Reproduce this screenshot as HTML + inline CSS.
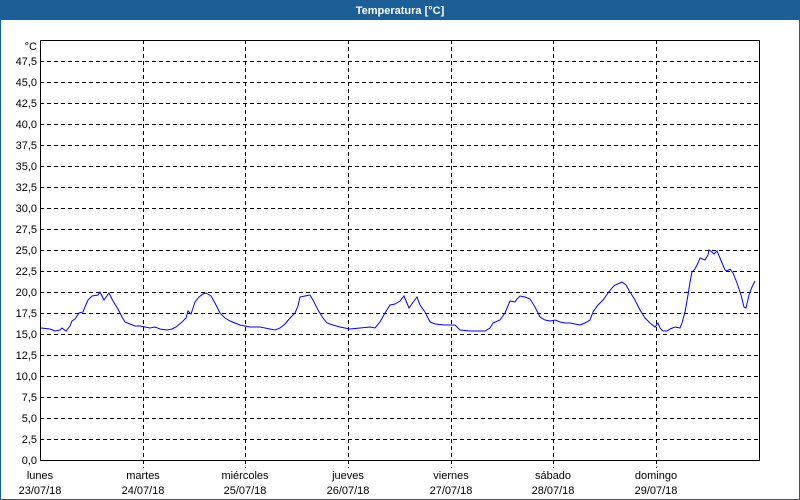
<!DOCTYPE html>
<html><head><meta charset="utf-8"><style>
html,body{margin:0;padding:0;background:#fff}
svg{display:block}
text{font-family:"Liberation Sans","DejaVu Sans",sans-serif;font-size:11px;fill:#000}
</style></head><body>
<svg width="800" height="500" viewBox="0 0 800 500" xmlns="http://www.w3.org/2000/svg">
<rect x="0" y="0" width="800" height="500" fill="#fff"/>
<rect x="0.5" y="0.5" width="799" height="499" fill="none" stroke="#1c5f96" stroke-width="1"/>
<rect x="0" y="0" width="800" height="20" fill="#1c5f96"/>
<text x="400" y="14" text-anchor="middle" style="fill:#fff;font-weight:bold">Temperatura [°C]</text>
<g stroke="#000" stroke-width="1" stroke-dasharray="4,3" fill="none">
<path d="M40 439.5H760M40 418.5H760M40 397.5H760M40 376.5H760M40 355.5H760M40 334.5H760M40 313.5H760M40 292.5H760M40 271.5H760M40 250.5H760M40 229.5H760M40 208.5H760M40 187.5H760M40 166.5H760M40 145.5H760M40 124.5H760M40 103.5H760M40 82.5H760M40 61.5H760"/>
<path d="M143.5 40V468M245.5 40V468M348.5 40V468M451.5 40V468M553.5 40V468M656.5 40V468"/>
</g>
<rect x="40.5" y="40.5" width="719" height="420" fill="none" stroke="#000" stroke-width="1"/>
<g text-anchor="end">
<text x="37" y="50">°C</text>
<text x="37" y="65">47,5</text><text x="37" y="86">45,0</text><text x="37" y="107">42,5</text><text x="37" y="128">40,0</text>
<text x="37" y="149">37,5</text><text x="37" y="170">35,0</text><text x="37" y="191">32,5</text><text x="37" y="212">30,0</text>
<text x="37" y="233">27,5</text><text x="37" y="254">25,0</text><text x="37" y="275">22,5</text><text x="37" y="296">20,0</text>
<text x="37" y="317">17,5</text><text x="37" y="338">15,0</text><text x="37" y="359">12,5</text><text x="37" y="380">10,0</text>
<text x="37" y="401">7,5</text><text x="37" y="422">5,0</text><text x="37" y="443">2,5</text><text x="37" y="464">0,0</text>
</g>
<g text-anchor="middle">
<text x="40" y="479">lunes</text><text x="40" y="494">23/07/18</text>
<text x="143" y="479">martes</text><text x="143" y="494">24/07/18</text>
<text x="245" y="479">miércoles</text><text x="245" y="494">25/07/18</text>
<text x="348" y="479">jueves</text><text x="348" y="494">26/07/18</text>
<text x="451" y="479">viernes</text><text x="451" y="494">27/07/18</text>
<text x="553" y="479">sábado</text><text x="553" y="494">28/07/18</text>
<text x="656" y="479">domingo</text><text x="656" y="494">29/07/18</text>
</g>
<polyline fill="none" stroke="#0000ff" stroke-width="1" points="41,328 50,329 55,331 60,330 62,328 66,331 70,326 72,321 75,319 79,313 83,312 85,307 88,300 92,296 98,295 100,292 104,300 109,293 113,301 118,309 122,317 125,322 130,324 135,326 140,326 145,327 150,328 155,327 160,329 167,330 172,329 176,327 182,322 186,318 188,311 190,313 191,314 195,302 199,297 203,294 206,293 211,296 215,303 220,313 225,318 230,321 240,325 250,327 260,327 270,329 275,330 280,328 285,324 290,318 295,313 298,306 300,297 305,296 310,295 313,300 318,310 323,318 327,323 333,325 340,327 350,329 360,328 370,327 375,328 380,322 385,313 390,305 395,304 400,301 404,296 409,308 414,301 417,297 420,305 425,312 430,322 435,324 445,325 455,325 460,330 470,331 480,331 485,331 490,328 493,323 500,320 505,313 510,301 515,302 517,299 520,296 525,297 530,299 535,307 540,317 545,320 550,321 555,320 560,322 565,323 570,323 575,324 580,325 585,323 590,320 593,312 598,305 603,300 608,293 612,288 615,285 620,283 622,282 626,285 630,292 635,300 640,310 645,318 650,323 655,327 658,323 660,328 663,331 667,331 670,329 675,327 680,328 682,323 685,312 688,295 690,282 692,272 695,269 698,263 700,258 705,260 708,255 709,250 712,252 714,254 717,251 720,258 725,270 727,271 730,269 733,273 737,283 741,295 744,307 746,308 749,295 752,287 755,281"/>
</svg>
</body></html>
